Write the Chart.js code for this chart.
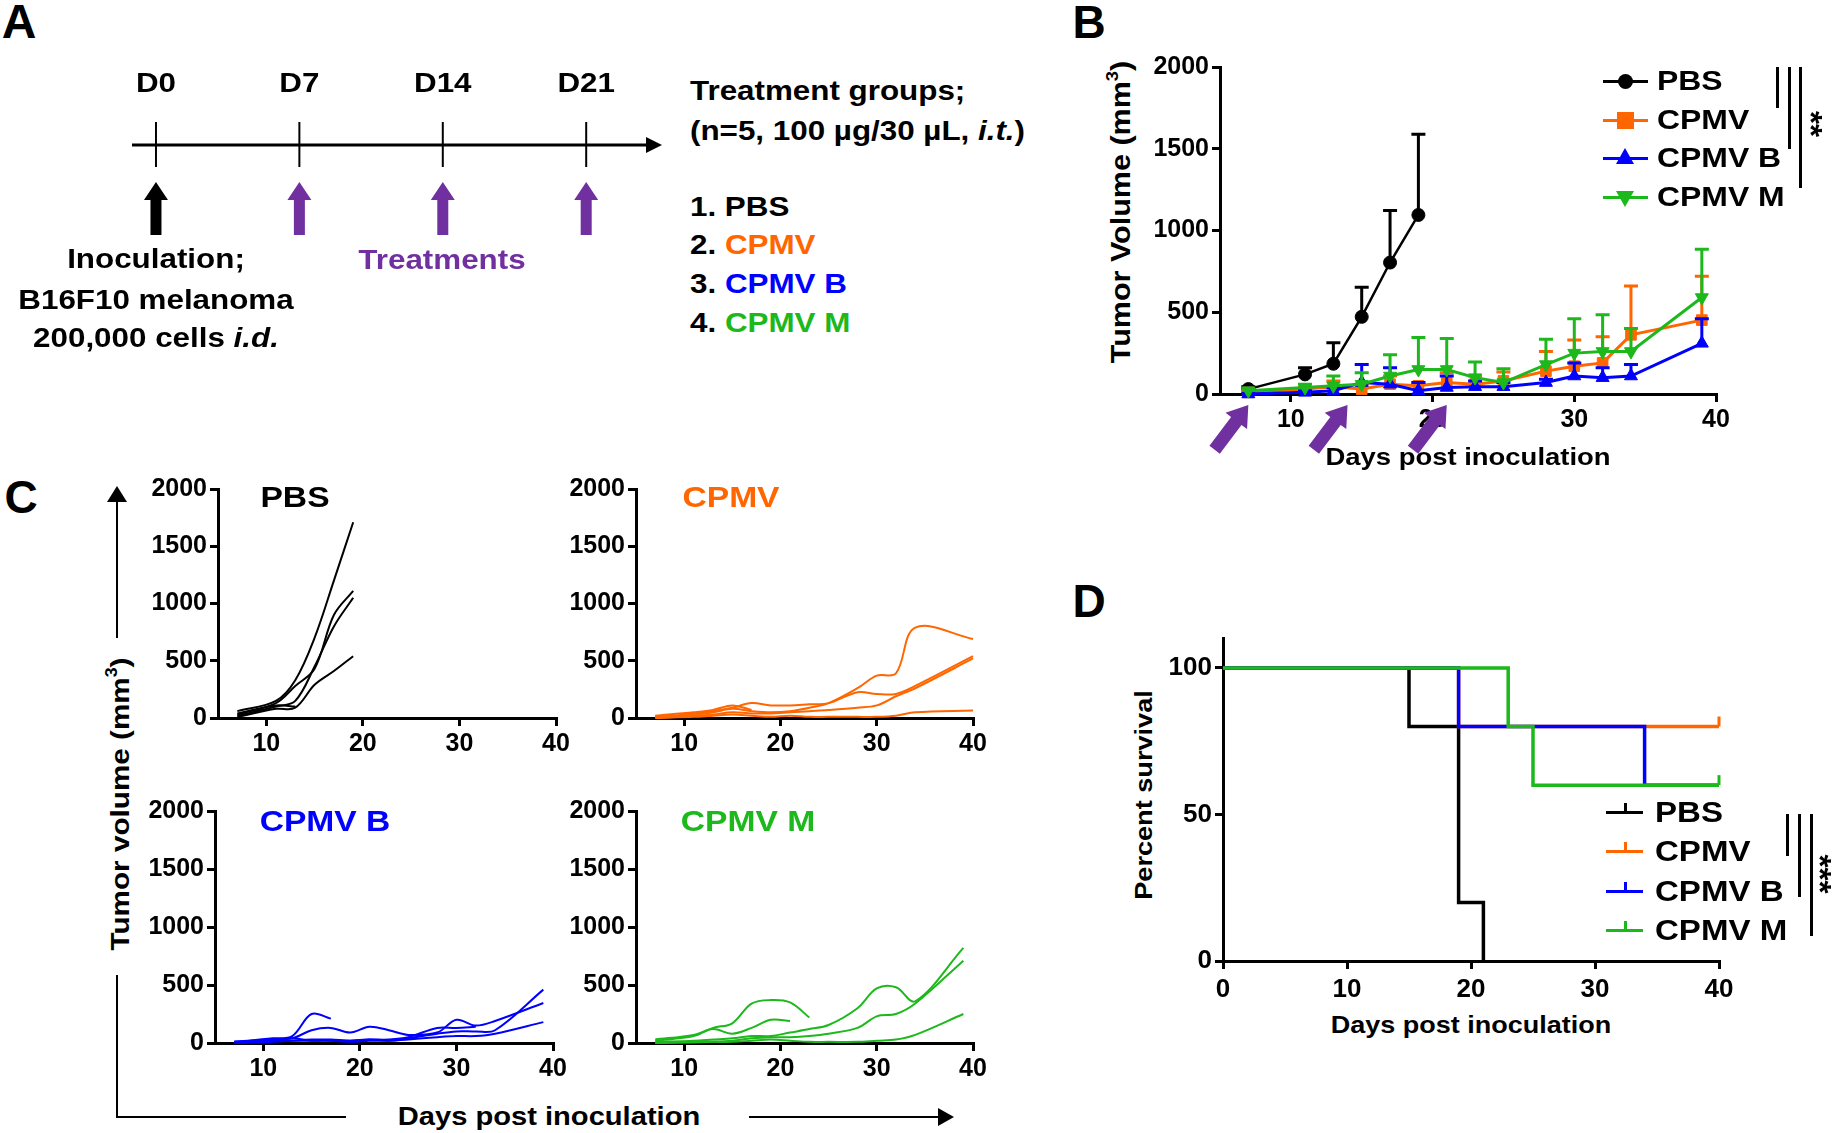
<!DOCTYPE html>
<html><head><meta charset="utf-8">
<script src="https://cdn.jsdelivr.net/npm/chart.js@4.4.0/dist/chart.umd.min.js"></script>
<style>
html,body{margin:0;padding:0;background:#fff;}
#root{position:relative;width:1834px;height:1133px;overflow:hidden;background:#fff;font-family:"Liberation Sans",Arial,sans-serif;font-weight:bold;color:#000;}
.t{position:absolute;white-space:nowrap;line-height:1;}
canvas{position:absolute;}
.ln{position:absolute;background:#000;}
.sup{font-size:0.6em;position:relative;top:-0.75em;}
</style></head><body><div id="root"></div>
<script>
const FONT = '"Liberation Sans", Arial, Helvetica, sans-serif';
const BLACK='#000000', ORANGE='#FF6600', BLUE='#0000FF', GREEN='#1CB81C', PURPLE='#7030A0';

// ---------- Panel A ----------
const timelineDays = [0, 7, 14, 21];
const timelineLabels = ['D0', 'D7', 'D14', 'D21'];

// ---------- Panel B (mean + SD) ----------
const groups = ['PBS', 'CPMV', 'CPMV B', 'CPMV M'];
const daysPBS = [7, 11, 13, 15, 17, 19];
const days = [7, 11, 13, 15, 17, 19, 21, 23, 25, 28, 30, 32, 34, 39];
const meanPBS = [30, 120, 185, 472, 804, 1095];
const sdPBS = [15, 40, 128, 181, 318, 493];
const meanCPMV = [10, 30, 45, 30, 60, 50, 70, 60, 80, 140, 170, 190, 362, 452];
const sdCPMV = [5, 10, 35, 30, 50, 20, 60, 50, 55, 120, 160, 160, 298, 268];
const meanB = [0, 10, 20, 70, 60, 20, 40, 45, 45, 70, 110, 100, 110, 310];
const sdB = [5, 10, 20, 110, 100, 50, 70, 35, 25, 20, 80, 60, 70, 150];
const meanM = [20, 40, 50, 60, 110, 150, 150, 100, 70, 180, 250, 260, 260, 590];
const sdM = [10, 20, 60, 70, 130, 195, 190, 95, 85, 155, 210, 225, 140, 295];
const treatmentDays = [7, 14, 21];
const volTicks = [0, 500, 1000, 1500, 2000];
const dayTicks = [10, 20, 30, 40];

// ---------- Panel C (individual mice) ----------
const daysCPMVc = [7, 11, 13, 15, 17, 19, 21, 23, 25, 28, 30, 32, 34, 40];
const pbsMice = [
  [60, 150, 330, 700, 1200, 1710],
  [30, 130, 280, 430, 900, 1110],
  [20, 100, 150, 450, 800, 1050],
  [10, 80, 90, 290, 410, 540],
  [40, 110, 100]
];
const cpmvMice = [
  [10, 30, 50, 80, 60, 50, 60, 90, 130, 260, 370, 390, 790, 690],
  [0, 40, 60, 90, 130, 110, 110, 120, 130, 225, 210, 210, 280, 540],
  [10, 20, 30, 50, 40, 40, 50, 60, 70, 90, 110, 190, 260, 520],
  [0, 10, 20, 30, 20, 10, 20, 10, 10, 10, 10, 20, 50, 65],
  [20, 50, 70, 110, 70]
];
const cpmvBMice = [
  [10, 40, 60, 250, 210],
  [10, 30, 40, 110, 130, 90, 140, 110, 70, 90, 200, 150, 190, 345],
  [0, 20, 20, 20, 20, 10, 20, 20, 30, 50, 60, 60, 80, 180],
  [0, 10, 20, 30, 30, 20, 30, 20, 40, 80, 100, 100, 110, 460],
  [10, 30, 40, 20, 20, 20, 30, 30, 50, 130, 130, 140]
];
const cpmvMMice = [
  [20, 60, 130, 170, 340, 370, 350, 220],
  [30, 70, 120, 80, 130, 200, 190],
  [10, 20, 30, 40, 60, 60, 90, 120, 155, 300, 470, 480, 360, 820],
  [0, 5, 10, 20, 40, 50, 50, 60, 80, 130, 230, 250, 340, 710],
  [0, 10, 10, 10, 20, 30, 20, 10, 10, 10, 20, 30, 70, 250]
];

// ---------- Panel D (survival) ----------
const survDaysPBS = [0, 15, 19, 21];   const survPBS = [100, 80, 20, 0];
const survDaysCPMV = [0, 19, 40];      const survCPMV = [100, 80, 80];
const survDaysB = [0, 19, 34, 40];     const survB = [100, 80, 60, 60];
const survDaysM = [0, 23, 25, 40];     const survM = [100, 80, 60, 60];
const survTicksX = [0, 10, 20, 30, 40];
const survTicksY = [0, 50, 100];

// ================= helpers =================
const root = document.getElementById('root');
function T(html, x, y, size, o = {}) {
  const d = document.createElement('div'); d.className = 't'; d.innerHTML = html;
  d.style.left = x + 'px'; d.style.top = y + 'px'; d.style.fontSize = size + 'px';
  if (o.color) d.style.color = o.color;
  const sx = o.sx || 1.12;
  let tx = '-50%';
  if (o.align === 'left') { tx = '0'; d.style.transformOrigin = 'left center'; }
  if (o.align === 'right') { tx = '-100%'; d.style.transformOrigin = 'right center'; }
  d.style.transform = `translate(${tx},-50%)` + (o.rot ? ` rotate(${o.rot}deg)` : '') + ` scaleX(${sx})`;
  root.appendChild(d); return d;
}
function R(x, y, w, h, color = '#000', extra = {}) {
  const d = document.createElement('div'); d.className = 'ln';
  Object.assign(d.style, {left: x + 'px', top: y + 'px', width: w + 'px', height: h + 'px', background: color}, extra);
  root.appendChild(d); return d;
}
function tri(x, y, dir, w, h, color) {
  const d = document.createElement('div');
  const s = {position: 'absolute', left: x + 'px', top: y + 'px', width: 0, height: 0};
  if (dir === 'up') Object.assign(s, {borderLeft: `${w/2}px solid transparent`, borderRight: `${w/2}px solid transparent`, borderBottom: `${h}px solid ${color}`});
  if (dir === 'down') Object.assign(s, {borderLeft: `${w/2}px solid transparent`, borderRight: `${w/2}px solid transparent`, borderTop: `${h}px solid ${color}`});
  if (dir === 'right') Object.assign(s, {borderTop: `${h/2}px solid transparent`, borderBottom: `${h/2}px solid transparent`, borderLeft: `${w}px solid ${color}`});
  Object.assign(d.style, s); root.appendChild(d); return d;
}
function axis(min, max, ticks, size, fit, val, pad) {
  return {type: 'linear', min, max,
    afterBuildTicks: a => { a.ticks = ticks.map(v => ({value: v})); },
    afterFit: a => { a[fit] = val; },
    grid: {drawOnChartArea: false, drawTicks: true, tickLength: 8, tickWidth: 3, tickColor: '#000', color: '#000', lineWidth: 3},
    border: {display: true, color: '#000', width: 3},
    ticks: {color: '#000', padding: pad ?? 3, autoSkip: false, maxRotation: 0, minRotation: 0,
      font: {family: FONT, size, weight: 'bold'}, callback: v => String(v)}
  };
}
function mk(box, datasets, scales, plugins = []) {
  const {pl, pt, pr, pb, yw, xh, padT = 12, padR = 30, padB = 0, padL = 0} = box;
  const W = padL + yw + (pr - pl) + padR, H = padT + (pb - pt) + xh + padB;
  const c = document.createElement('canvas'); c.width = W; c.height = H;
  Object.assign(c.style, {left: (pl - yw - padL) + 'px', top: (pt - padT) + 'px', width: W + 'px', height: H + 'px'});
  root.appendChild(c);
  return new Chart(c, {type: 'line', data: {datasets}, options: {
    responsive: false, maintainAspectRatio: false, animation: false, devicePixelRatio: 1,
    layout: {autoPadding: false, padding: {left: padL, top: padT, right: padR, bottom: padB}},
    plugins: {legend: {display: false}, tooltip: {enabled: false}},
    scales}, plugins});
}
function pts(xs, ys) { return ys.map((v, i) => ({x: xs[i], y: v})); }
function arrowPoly(ctx, tipX, tipY, angle, L, shaftW, headW, headL, color) {
  ctx.save(); ctx.translate(tipX, tipY); ctx.rotate(angle);
  ctx.beginPath();
  ctx.moveTo(0, 0); ctx.lineTo(-headL, headW / 2); ctx.lineTo(-headL, shaftW / 2); ctx.lineTo(-L, shaftW / 2);
  ctx.lineTo(-L, -shaftW / 2); ctx.lineTo(-headL, -shaftW / 2); ctx.lineTo(-headL, -headW / 2); ctx.closePath();
  ctx.fillStyle = color; ctx.fill(); ctx.restore();
}

// ================= Panel A (timeline) =================
const timelinePlugin = {
  id: 'timeline',
  afterDraw(chart) {
    const ctx = chart.ctx, ca = chart.chartArea, xs = chart.scales.x;
    const yL = ca.top + 90;
    ctx.save();
    ctx.strokeStyle = '#000'; ctx.lineWidth = 3;
    ctx.beginPath(); ctx.moveTo(ca.left, yL); ctx.lineTo(ca.right - 12, yL); ctx.stroke();
    ctx.beginPath(); ctx.moveTo(ca.right, yL); ctx.lineTo(ca.right - 16, yL - 8); ctx.lineTo(ca.right - 16, yL + 8); ctx.closePath();
    ctx.fillStyle = '#000'; ctx.fill();
    ctx.lineWidth = 2;
    timelineDays.forEach((d, i) => {
      const x = xs.getPixelForValue(d);
      ctx.beginPath(); ctx.moveTo(x, yL - 23); ctx.lineTo(x, yL + 22); ctx.stroke();
      ctx.save(); ctx.translate(x, ca.top + 37); ctx.scale(1.12, 1);
      ctx.font = `bold 28px ${FONT}`; ctx.textAlign = 'center'; ctx.textBaseline = 'alphabetic';
      ctx.fillStyle = '#000'; ctx.fillText(timelineLabels[i], 0, 0); ctx.restore();
      arrowPoly(ctx, x, yL + 37, -Math.PI / 2, 53, 11, 24, 18, i === 0 ? BLACK : PURPLE);
    });
    ctx.restore();
  }
};
mk({pl: 132, pt: 55, pr: 662, pb: 250, yw: 0, xh: 0, padT: 0, padR: 0},
  [{data: timelineDays.map(d => ({x: d, y: 0})), pointRadius: 0, showLine: false}],
  {x: {type: 'linear', min: -1.17, max: 24.7, display: false}, y: {type: 'linear', min: 0, max: 1, display: false}},
  [timelinePlugin]);

T('A', 19, 22, 48, {sx: 1});
T('Inoculation;', 156, 259, 28);
T('B16F10 melanoma', 156, 300, 28);
T('200,000 cells <i>i.d.</i>', 156, 338, 28);
T('Treatments', 442, 260, 28, {color: PURPLE});
T('Treatment groups;', 690, 91, 28, {align: 'left'});
T('(n=5, 100 µg/30 µL, <i>i.t.</i>)', 690, 131, 28, {align: 'left'});
T('1. PBS', 690, 207, 28, {align: 'left'});
T('2. <span style="color:' + ORANGE + '">CPMV</span>', 690, 245, 28, {align: 'left'});
T('3. <span style="color:' + BLUE + '">CPMV B</span>', 690, 284, 28, {align: 'left'});
T('4. <span style="color:' + GREEN + '">CPMV M</span>', 690, 323, 28, {align: 'left'});

// ================= Panel B =================
const errPlugin = {
  id: 'errbars',
  beforeDatasetDraw(chart, args) {
    const ds = chart.data.datasets[args.index];
    if (!ds.errUp) return;
    const ctx = chart.ctx, xs = chart.scales.x, ys = chart.scales.y;
    ctx.save(); ctx.strokeStyle = ds.borderColor; ctx.lineWidth = 3;
    ds.data.forEach((p, i) => {
      const e = ds.errUp[i]; if (!e) return;
      const x = xs.getPixelForValue(p.x), y0 = ys.getPixelForValue(p.y), y1 = ys.getPixelForValue(p.y + e);
      ctx.beginPath(); ctx.moveTo(x, y0); ctx.lineTo(x, y1); ctx.moveTo(x - 7, y1); ctx.lineTo(x + 7, y1); ctx.stroke();
    });
    ctx.restore();
  }
};
const treatArrowPlugin = {
  id: 'treatArrows',
  afterDraw(chart) {
    const ctx = chart.ctx, xs = chart.scales.x, ca = chart.chartArea;
    treatmentDays.forEach(d => arrowPoly(ctx, xs.getPixelForValue(d), ca.bottom + 11, -53 * Math.PI / 180, 56, 13, 27, 20, PURPLE));
  }
};
function bSet(label, xs, ys, err, color, style, rot, order, bw) {
  return {label, data: pts(xs, ys), errUp: err, borderColor: color, backgroundColor: color,
    pointBackgroundColor: color, pointBorderColor: color, borderWidth: bw, pointStyle: style,
    pointRotation: rot, pointRadius: style === 'circle' ? 6.5 : 7.5, pointBorderWidth: 1, order, tension: 0, clip: false};
}
mk({pl: 1220, pt: 61, pr: 1716, pb: 394, yw: 75, xh: 64, padT: 12, padR: 30},
  [bSet('PBS', daysPBS, meanPBS, sdPBS, BLACK, 'circle', 0, 4, 2.5),
   bSet('CPMV', days, meanCPMV, sdCPMV, ORANGE, 'rect', 0, 3, 3),
   bSet('CPMV B', days, meanB, sdB, BLUE, 'triangle', 0, 2, 3),
   bSet('CPMV M', days, meanM, sdM, GREEN, 'triangle', 180, 1, 3)],
  {x: axis(5, 40, dayTicks, 25, 'height', 64, 3), y: axis(0, 2000, volTicks, 25, 'width', 75, 3)},
  [errPlugin, treatArrowPlugin]);

T('B', 1089, 22, 46, {sx: 1});
T('Tumor Volume (mm<span class="sup">3</span>)', 1121, 212, 27, {rot: -90, sx: 1.13});
T('Days post inoculation', 1468, 457, 24.5);
const legB = [[BLACK, 'circle'], [ORANGE, 'rect'], [BLUE, 'up'], [GREEN, 'down']];
const legBY = [81, 120, 158, 197];
legB.forEach(([c, s], i) => {
  const cy = legBY[i];
  R(1603, cy - 1.5, 45, 3, c);
  if (s === 'circle') R(1618, cy - 7.5, 15, 15, c, {borderRadius: '50%'});
  if (s === 'rect') R(1617, cy - 8, 17, 17, c);
  if (s === 'up') tri(1616, cy - 10, 'up', 19, 16, c);
  if (s === 'down') tri(1616, cy - 6, 'down', 19, 16, c);
  T(groups[i], 1657, cy, 28, {align: 'left', sx: 1.14});
});
R(1776, 67, 3, 41); R(1788, 67, 3, 82); R(1799, 67, 3, 121);
T('**', 1811, 124, 32, {rot: 90, sx: 1.05});

// ================= Panel C =================
function cSets(xsArr, mice, color) {
  return mice.map(m => ({data: pts(xsArr, m), borderColor: color, borderWidth: 2, pointRadius: 0, tension: 0.35, clip: false}));
}
function cChart(box, mice, xsArr, color) {
  mk(Object.assign({yw: 72, xh: 42, padT: 12, padR: 24}, box), cSets(xsArr, mice, color),
    {x: axis(5, 40, dayTicks, 25, 'height', 42, 3), y: axis(0, 2000, volTicks, 25, 'width', 72, 3)});
}
cChart({pl: 218, pt: 483, pr: 556, pb: 718}, pbsMice, daysPBS, BLACK);
cChart({pl: 636, pt: 483, pr: 973, pb: 718}, cpmvMice, daysCPMVc, ORANGE);
cChart({pl: 215, pt: 805, pr: 553, pb: 1043}, cpmvBMice, days, BLUE);
cChart({pl: 636, pt: 805, pr: 973, pb: 1043}, cpmvMMice, days, GREEN);

T('C', 21, 497, 46, {sx: 1});
T('PBS', 295, 497, 30);
T('CPMV', 731, 497, 30, {color: ORANGE});
T('CPMV B', 325, 821, 30, {color: BLUE});
T('CPMV M', 748, 821, 30, {color: GREEN});
T('Tumor volume (mm<span class="sup">3</span>)', 120, 804, 26.5, {rot: -90});
R(116, 500, 2, 138); tri(107, 486, 'up', 20, 16, '#000');
R(116, 975, 2, 143); R(116, 1116, 230, 2);
T('Days post inoculation', 549, 1116, 26);
R(749, 1116, 190, 2); tri(938, 1108, 'right', 16, 18, '#000');

// ================= Panel D =================
const censorPlugin = {
  id: 'censor',
  afterDatasetsDraw(chart) {
    const ctx = chart.ctx, xs = chart.scales.x, ys = chart.scales.y;
    chart.data.datasets.forEach(ds => {
      if (!ds.censorLast) return;
      const p = ds.data[ds.data.length - 1];
      const x = xs.getPixelForValue(p.x), y = ys.getPixelForValue(p.y);
      ctx.save(); ctx.strokeStyle = ds.borderColor; ctx.lineWidth = 3;
      ctx.beginPath(); ctx.moveTo(x, y); ctx.lineTo(x, y - 10); ctx.stroke(); ctx.restore();
    });
  }
};
function sSet(xs, ys, color, order, censor) {
  return {data: pts(xs, ys), borderColor: color, borderWidth: 3.5, pointRadius: 0, stepped: true, order, censorLast: censor, clip: false};
}
mk({pl: 1223, pt: 630, pr: 1719, pb: 961, yw: 60, xh: 50, padT: 10, padR: 30},
  [sSet(survDaysPBS, survPBS, BLACK, 4, false),
   sSet(survDaysCPMV, survCPMV, ORANGE, 3, true),
   sSet(survDaysB, survB, BLUE, 2, false),
   sSet(survDaysM, survM, GREEN, 1, true)],
  {x: axis(0, 40, survTicksX, 26, 'height', 50, 5), y: axis(0, 110, survTicksY, 26, 'width', 60, 3)},
  [censorPlugin]);

T('D', 1089, 601, 46, {sx: 1});
T('Percent survival', 1144, 795, 24, {rot: -90, sx: 1.13});
T('Days post inoculation', 1471, 1025, 24, {sx: 1.125});
const legDColors = [BLACK, ORANGE, BLUE, GREEN];
const legDY = [812, 851, 891, 930];
legDColors.forEach((c, i) => {
  const cy = legDY[i];
  R(1606, cy - 1.5, 37, 3, c);
  R(1624, cy - 9, 3, 9, c);
  T(groups[i], 1655, cy, 29, {align: 'left', sx: 1.14});
});
R(1786, 814, 3, 42); R(1798, 814, 3, 83); R(1810, 814, 3, 122);
T('***', 1820, 874, 32, {rot: 90, sx: 1.05});
</script></body></html>
